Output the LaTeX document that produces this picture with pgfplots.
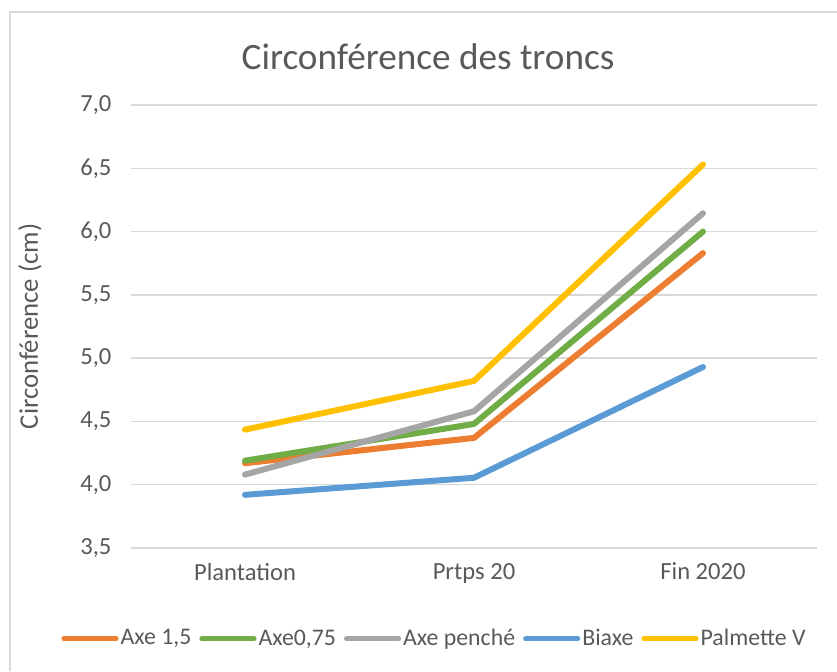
\documentclass[border=0pt]{standalone}
\usepackage{pgfplots}
\pgfplotsset{compat=1.18}
\usepackage{fontspec}
\setmainfont{Carlito}
\definecolor{txt}{HTML}{595959}
\definecolor{gridc}{HTML}{D9D9D9}
\definecolor{cOr}{HTML}{ED7D31}
\definecolor{cGr}{HTML}{70AD47}
\definecolor{cGy}{HTML}{A5A5A5}
\definecolor{cBl}{HTML}{5B9BD5}
\definecolor{cYe}{HTML}{FFC000}
\begin{document}
\begin{tikzpicture}
\useasboundingbox (0pt,0pt) rectangle (418.5pt,335.5pt);
\draw[gridc, line width=0.75pt] (5pt,0pt) -- (5pt,329.5pt) -- (418.5pt,329.5pt);
\node[anchor=base, text=txt, font=\fontsize{18.6}{21}\selectfont] at (214pt,300.5pt) {Circonférence des troncs};
\begin{axis}[
  at={(65.25pt,61.5pt)}, anchor=south west,
  scale only axis, width=343.5pt, height=221.5pt,
  xmin=-0.5, xmax=2.5, ymin=3.5, ymax=7.0,
  xtick={0,1,2}, xticklabels={Plantation, Prtps 20, Fin 2020},
  ytick={3.5,4,4.5,5,5.5,6,6.5,7},
  major tick length=0pt,
  axis line style={draw=none},
  ymajorgrids, grid style={gridc, line width=0.75pt},
  /pgf/number format/assume math mode=true,
  yticklabel style={/pgf/number format/fixed, /pgf/number format/fixed zerofill, /pgf/number format/precision=1, /pgf/number format/use comma},
  ticklabel style={text=txt, font=\fontsize{12.3}{14}\selectfont},
  yticklabel style={xshift=-6pt},
  xticklabel style={yshift=-4pt},
  ylabel={Circonférence (cm)},
  every axis y label/.style={at={(axis description cs:0,0.5)}, xshift=-50.25pt, rotate=90, anchor=center, text=txt, font=\fontsize{13.4}{15}\selectfont},
  legend columns=5,
  legend style={at={(axis description cs:0.4425,-0.205)}, anchor=center, draw=none, fill=none,
    font=\fontsize{11.9}{14}\selectfont, text=txt,
    nodes={inner xsep=1pt},
    /tikz/every even column/.append style={column sep=3pt}},
  legend image code/.code={\draw[#1, line cap=round, line width=2.6pt] (0pt,0pt) -- (26pt,0pt);},
  every axis plot/.append style={line width=3pt, line cap=round, line join=round},
]
\addplot[cOr] coordinates {(0,4.17) (1,4.37) (2,5.83)};
\addlegendentry{Axe 1,5}
\addplot[cGr] coordinates {(0,4.19) (1,4.48) (2,6.00)};
\addlegendentry{Axe0,75}
\addplot[cGy] coordinates {(0,4.08) (1,4.58) (2,6.145)};
\addlegendentry{Axe penché}
\addplot[cBl] coordinates {(0,3.92) (1,4.055) (2,4.93)};
\addlegendentry{Biaxe}
\addplot[cYe] coordinates {(0,4.435) (1,4.82) (2,6.53)};
\addlegendentry{Palmette V}
\end{axis}
\end{tikzpicture}
\end{document}
